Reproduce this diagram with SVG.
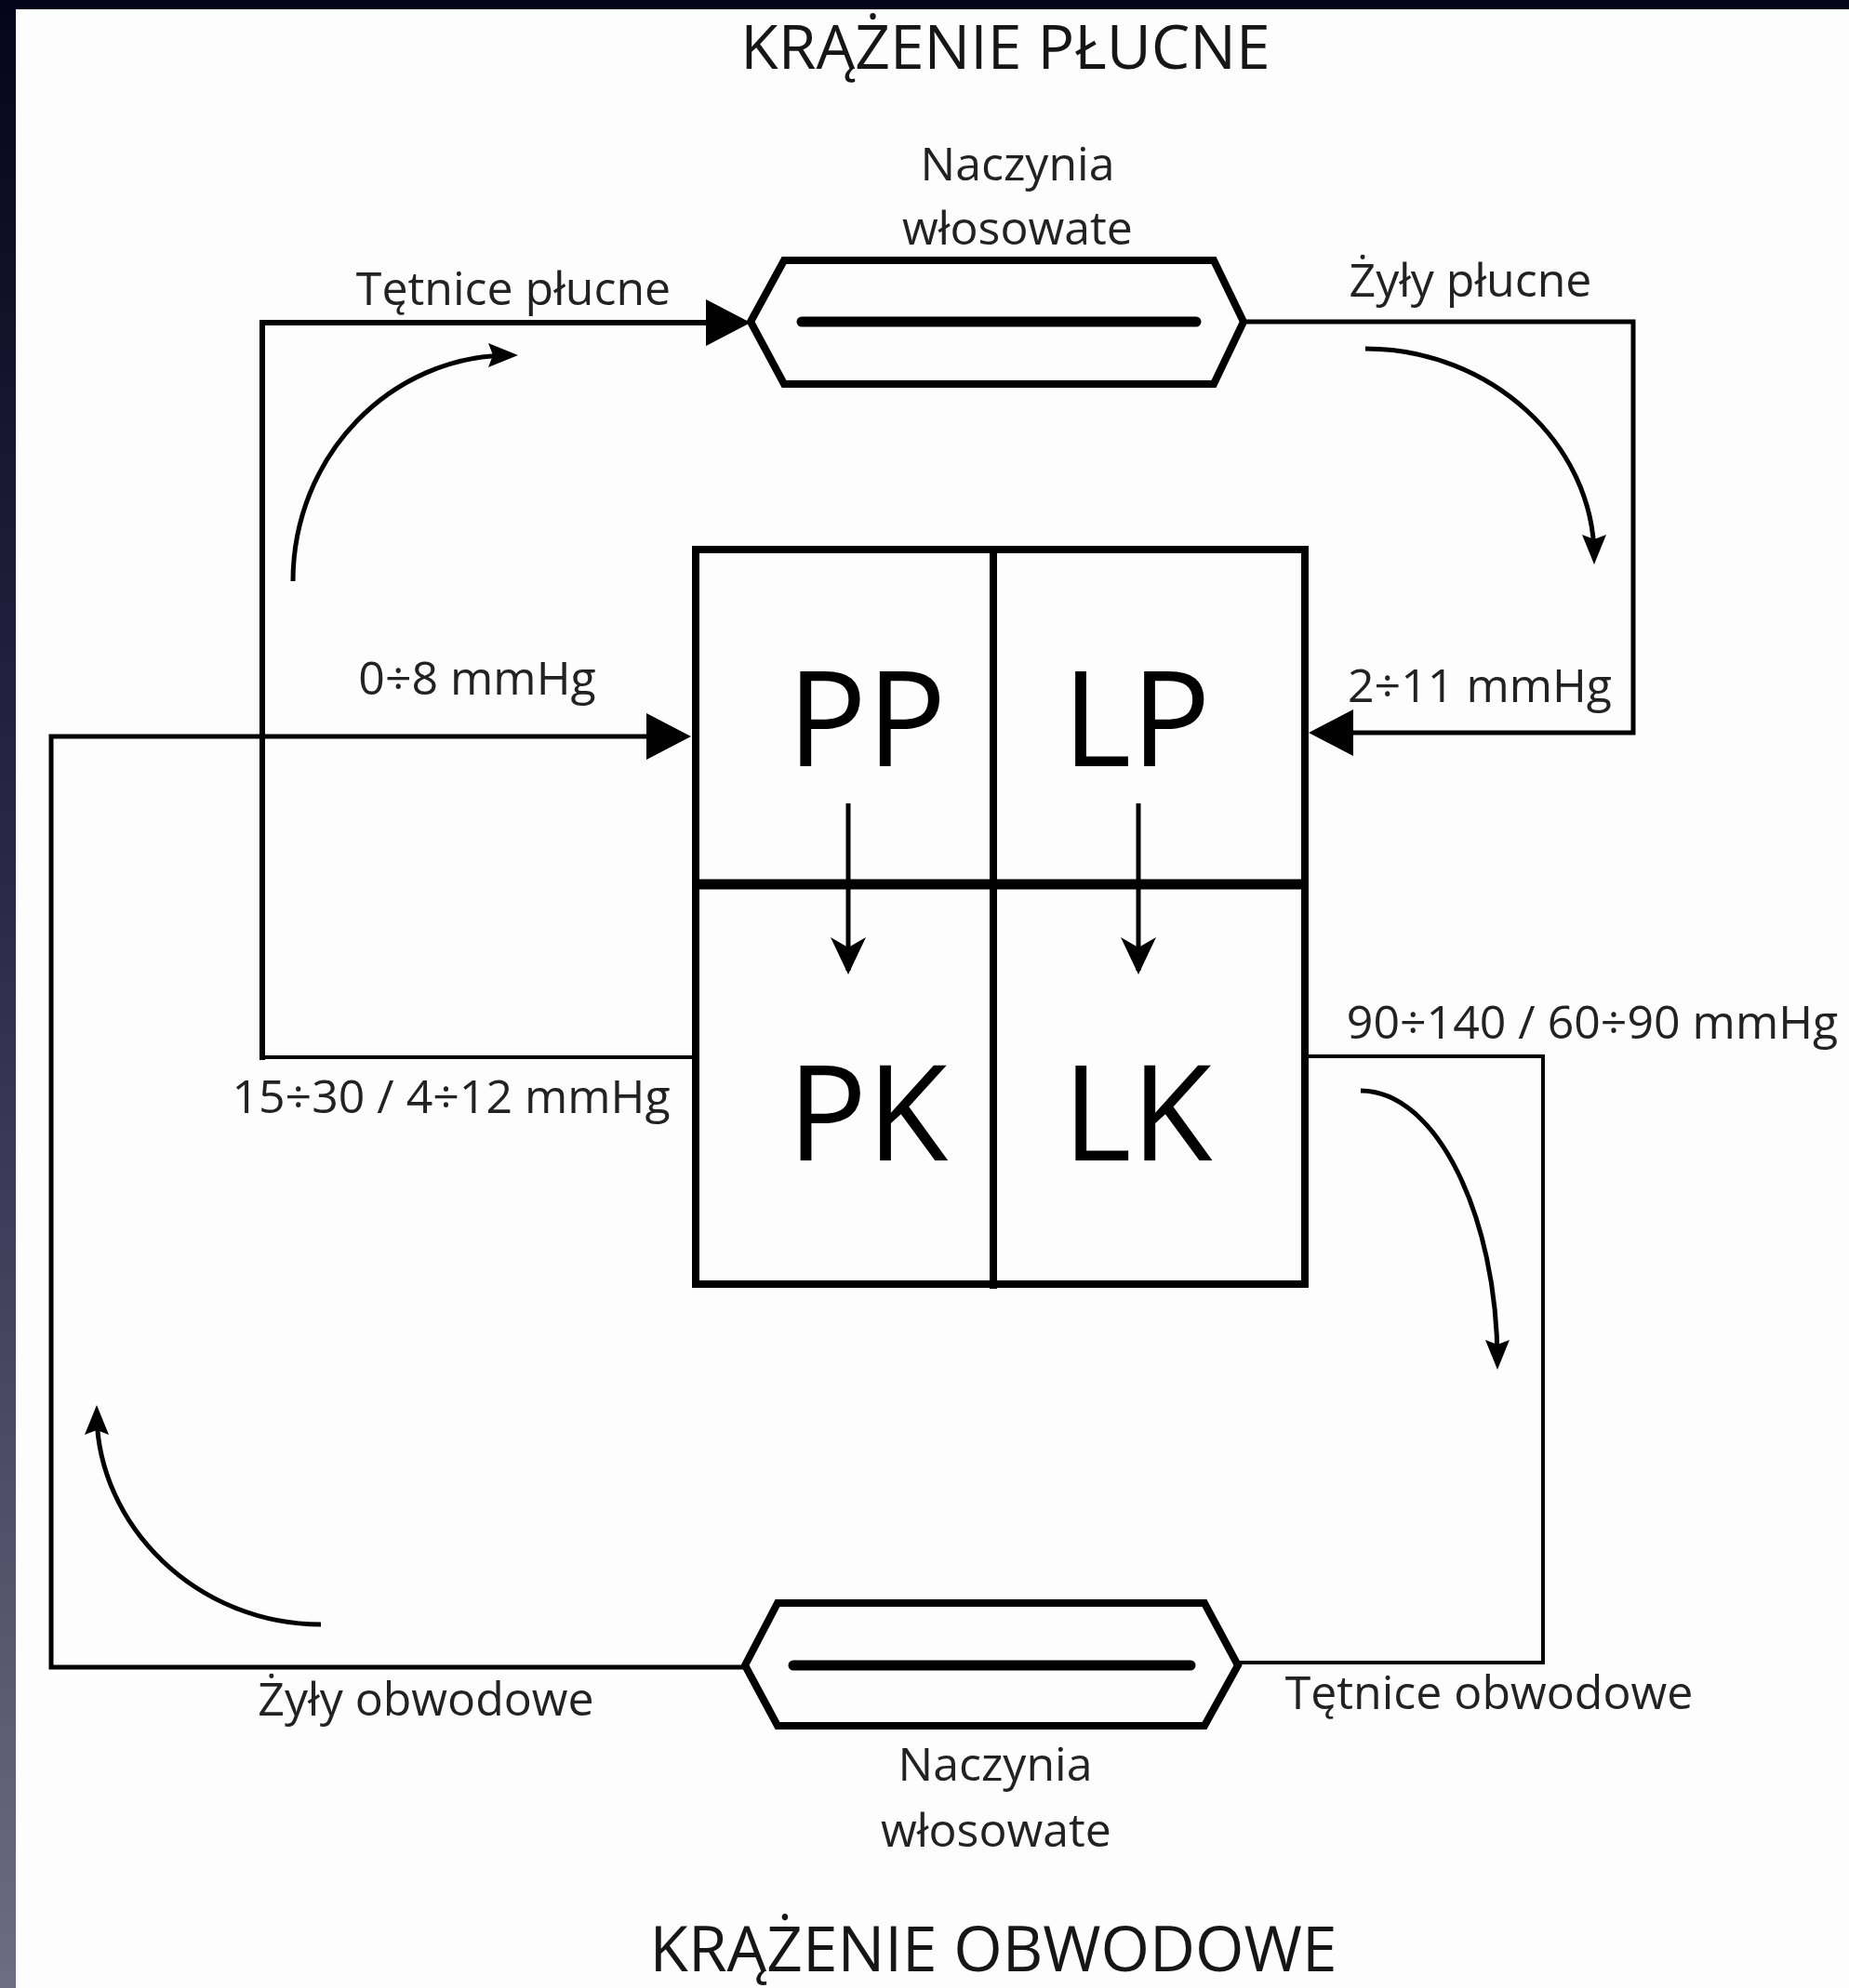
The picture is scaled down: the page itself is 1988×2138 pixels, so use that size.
<svg xmlns="http://www.w3.org/2000/svg" width="1988" height="2138" viewBox="0 0 1988 2138">
<defs>
<linearGradient id="band" x1="0" y1="0" x2="0" y2="1">
<stop offset="0" stop-color="#04041a"/>
<stop offset="0.45" stop-color="#2a2a48"/>
<stop offset="1" stop-color="#6c6c82"/>
</linearGradient>
<marker id="big" markerUnits="userSpaceOnUse" orient="auto" refX="0" refY="0" markerWidth="10" markerHeight="10" style="overflow:visible">
<path d="M-38,-25 L10,0 L-38,25 Z" fill="#000"/>
</marker>
<marker id="sm" markerUnits="userSpaceOnUse" orient="auto" refX="0" refY="0" markerWidth="10" markerHeight="10" style="overflow:visible">
<path d="M-24,-13 L8,0 L-24,13 L-19,0 Z" fill="#000"/>
</marker>
<marker id="st" markerUnits="userSpaceOnUse" orient="auto" refX="0" refY="0" markerWidth="10" markerHeight="10" style="overflow:visible">
<path d="M-36,-19 L4,0 L-36,19 L-25,0 Z" fill="#000"/>
</marker>
</defs>
<style>
.ln{fill:none;stroke:#000;stroke-linejoin:miter}
.hex{fill:none;stroke:#000;stroke-width:8;stroke-linejoin:miter}
.core{fill:none;stroke:#000;stroke-width:11;stroke-linecap:round}
.lab{font-family:"Open Sans","Noto Sans","DejaVu Sans",sans-serif;font-size:50px;fill:#222;text-anchor:middle}
.ttl{font-family:"Open Sans","Noto Sans","DejaVu Sans",sans-serif;font-size:66px;fill:#161616;text-anchor:middle}
.big{font-family:"Open Sans","Noto Sans","DejaVu Sans",sans-serif;font-size:142px;fill:#000;text-anchor:middle}
.curve{fill:none;stroke:#000;stroke-width:5}
</style>
<rect x="0" y="0" width="1988" height="2138" fill="#fdfdfd"/>
<rect x="0" y="0" width="17" height="2138" fill="url(#band)"/>
<rect x="0" y="0" width="1988" height="10" fill="#04041a"/>

<text class="ttl" x="1081" y="74">KRĄŻENIE PŁUCNE</text>
<text class="ttl" x="1068" y="2120" style="font-size:67.5px">KRĄŻENIE OBWODOWE</text>

<g id="connectors">
<path class="ln" stroke-width="4" d="M748,1137 H282"/>
<path class="ln" stroke-width="6" d="M282,1140 V347 H797" marker-end="url(#big)"/>
<path class="ln" stroke-width="5" d="M1337,346 H1756 V788 H1417" marker-end="url(#big)"/>
<path class="ln" stroke-width="5" d="M801,1793 H55 V792 H733" marker-end="url(#big)"/>
<path class="ln" stroke-width="4" d="M1403,1136 H1659 V1788 H1331"/>
<path class="ln" stroke-width="5" d="M912,864 V1044" marker-end="url(#st)"/>
<path class="ln" stroke-width="5" d="M1224,864 V1044" marker-end="url(#st)"/>
<path class="curve" d="M315,625 C315,491 419,382 549,382" marker-end="url(#sm)"/>
<path class="curve" d="M1468,375 C1604,375 1714,479 1714,599" marker-end="url(#sm)"/>
<path class="curve" d="M1463,1173 C1544,1173 1610,1307 1610,1465" marker-end="url(#sm)"/>
<path class="curve" d="M345,1747 C212,1747 104,1641 104,1519" marker-end="url(#sm)"/>
</g>

<g id="capillaries-pulmonary">
<polygon class="hex" points="807,346 843,280 1305,280 1337,346 1305,413 843,413"/>
<path class="core" d="M862,346 H1286"/>
<text class="lab" x="1094" y="194">Naczynia</text>
<text class="lab" x="1094" y="263">włosowate</text>
</g>

<g id="capillaries-systemic">
<polygon class="hex" points="801,1791 836,1724 1295,1724 1331,1791 1295,1856 836,1856"/>
<path class="core" d="M853,1791 H1280"/>
<text class="lab" x="1070" y="1915">Naczynia</text>
<text class="lab" x="1071" y="1986">włosowate</text>
</g>

<g id="heart">
<rect x="748" y="591" width="655" height="790" fill="none" stroke="#000" stroke-width="8"/>
<path class="ln" stroke-width="8" d="M1068,591 V1386"/>
<path class="ln" stroke-width="11" d="M744,951 H1407"/>
<text class="big" x="932" y="824">PP</text>
<text class="big" x="1222" y="824">LP</text>
<text class="big" x="933" y="1248">PK</text>
<text class="big" x="1223" y="1248">LK</text>
</g>

<g id="labels">
<text class="lab" x="552" y="328">Tętnice płucne</text>
<text class="lab" x="1581" y="319">Żyły płucne</text>
<text class="lab" x="513" y="747">0÷8 mmHg</text>
<text class="lab" x="1591" y="755">2÷11 mmHg</text>
<text class="lab" x="485" y="1197">15÷30 / 4÷12 mmHg</text>
<text class="lab" x="1712" y="1117">90÷140 / 60÷90 mmHg</text>
<text class="lab" x="458" y="1845">Żyły obwodowe</text>
<text class="lab" x="1601" y="1838">Tętnice obwodowe</text>
</g>
</svg>
